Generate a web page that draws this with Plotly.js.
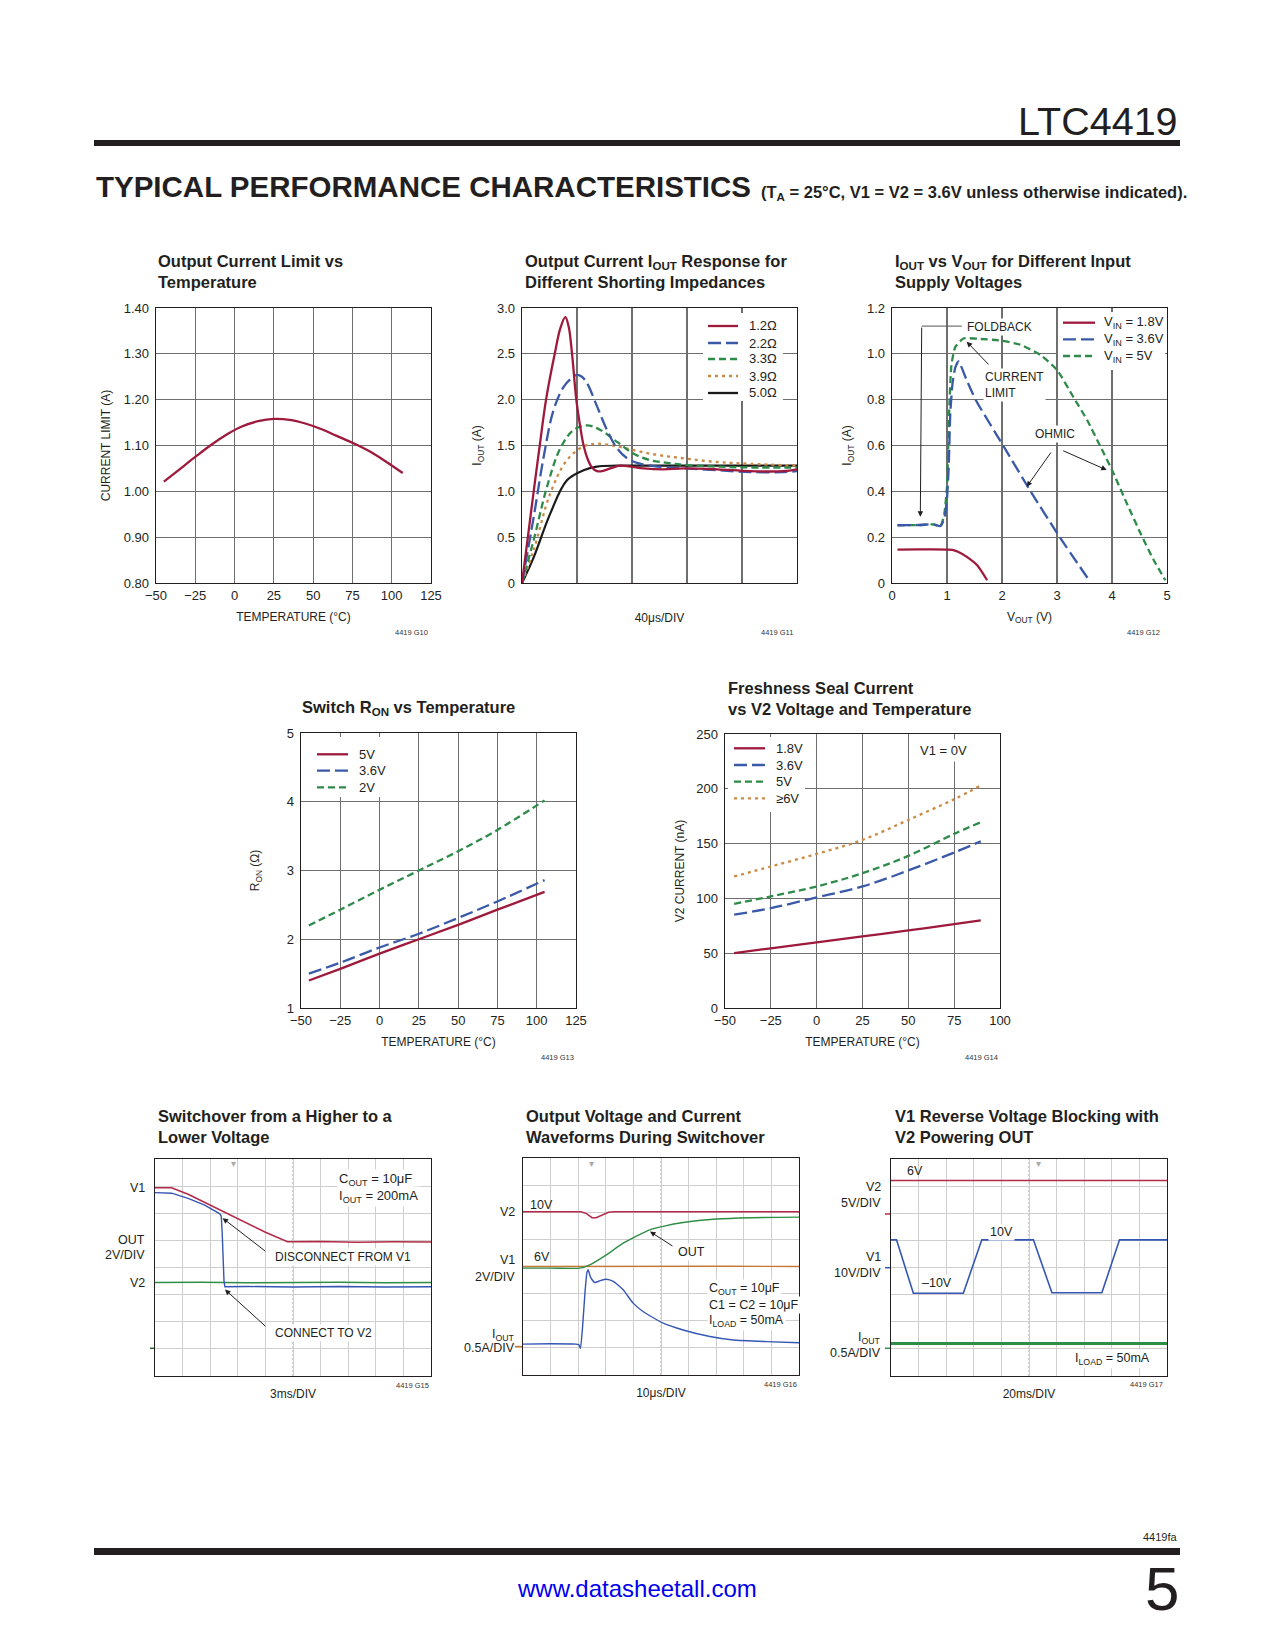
<!DOCTYPE html>
<html>
<head>
<meta charset="utf-8">
<script src="https://cdn.plot.ly/plotly-3.0.1.min.js"></script>
<style>
html,body{margin:0;padding:0;background:#ffffff;}
#page{width:1275px;height:1650px;}
</style>
</head>
<body>
<div id="page"></div>
<script>
// ================= DATA =================
// G10: Output current limit vs temperature
const g10Temp  = [-45,-35,-25,-15,-5,5,15,25,35,45,55,65,75,85,95,107];
const g10Limit = [1.021,1.048,1.075,1.101,1.124,1.142,1.153,1.158,1.156,1.148,1.136,1.121,1.106,1.089,1.068,1.040];

// G11: IOUT response for different shorting impedances (time in us, 40us/div)
const g11Names = ['1.2Ω','2.2Ω','3.3Ω','3.9Ω','5.0Ω'];
const g11T12 = [0,8.5,12.9,17.5,23.8,27.9,31.5,33.9,36.4,39.5,42.4,44.8,47.8,50.9,54.5,58.2,64.2,71.5,78.8,88.5,103,117.6,141.8,166.1,190.3,200];
const g11I12 = [0,1.0,1.5,2.0,2.5,2.78,2.90,2.80,2.5,2.0,1.7,1.5,1.35,1.26,1.22,1.22,1.25,1.28,1.27,1.25,1.24,1.25,1.24,1.22,1.22,1.24];
const g11T22 = [0,8.5,15.8,23.0,30.3,36.4,40.0,43.6,47.3,54.5,61.8,69.1,76.4,83.6,93.3,105.5,117.6,141.8,166.1,190.3,200];
const g11I22 = [0,0.72,1.38,1.89,2.14,2.24,2.27,2.25,2.18,1.93,1.67,1.47,1.36,1.31,1.28,1.26,1.25,1.23,1.21,1.21,1.22];
const g11T33 = [0,8.5,18.2,27.9,37.6,47.3,57.0,69.1,81.2,93.3,105.5,117.6,141.8,166.1,200];
const g11I33 = [0,0.47,1.05,1.47,1.67,1.72,1.67,1.54,1.41,1.34,1.31,1.29,1.27,1.26,1.26];
const g11T39 = [0,8.5,20.6,32.7,44.8,54.5,69.1,93.3,117.6,141.8,166.1,200];
const g11I39 = [0,0.36,0.98,1.34,1.49,1.52,1.49,1.41,1.36,1.32,1.30,1.28];
const g11T50 = [0,8.5,20.6,32.7,44.8,54.5,69.1,93.3,141.8,200];
const g11I50 = [0,0.28,0.76,1.12,1.23,1.27,1.28,1.28,1.28,1.28];
const g11YTicks = [0,0.5,1.0,1.5,2.0,2.5,3.0];
const g11YLabels = ['0','0.5','1.0','1.5','2.0','2.5','3.0'];

// G12: IOUT vs VOUT for different input supply voltages
const g12V18 = [0.1,0.5,1.0,1.1,1.2,1.36,1.55,1.73];
const g12I18 = [0.146,0.147,0.146,0.145,0.136,0.114,0.077,0.012];
const g12V36 = [0.1,0.5,0.75,0.88,0.95,1.0,1.03,1.06,1.1,1.15,1.21,1.35,1.52,2.02,2.52,3.05,3.59];
const g12I36 = [0.252,0.253,0.256,0.248,0.28,0.37,0.5,0.74,0.87,0.94,0.967,0.89,0.8,0.6,0.4,0.2,0.01];
const g12V5  = [0.1,0.5,0.75,0.88,0.95,1.0,1.04,1.08,1.15,1.3,1.6,1.97,2.33,2.7,3.0,3.3,3.55,3.79,4.0,4.27,4.52,4.76,4.97];
const g12I5  = [0.252,0.253,0.256,0.248,0.3,0.42,0.75,0.95,1.03,1.067,1.065,1.058,1.04,0.995,0.93,0.81,0.71,0.595,0.493,0.347,0.216,0.099,0.012];
const g12YTicks = [0,0.2,0.4,0.6,0.8,1.0,1.2];
const g12YLabels = ['0','0.2','0.4','0.6','0.8','1.0','1.2'];

// G13: Switch RON vs temperature
const g13Temp = [-45,-25,0,25,50,75,105];
const g13R5   = [1.40,1.57,1.79,2.00,2.21,2.43,2.69];
const g13R36  = [1.50,1.66,1.88,2.08,2.31,2.55,2.86];
const g13R2   = [2.20,2.43,2.72,3.00,3.28,3.59,4.02];

// G14: Freshness seal current vs V2 voltage and temperature
const g14Temp = [-45,-25,0,25,50,75,89.5];
const g14I18  = [50.1,54.5,59.8,65.3,70.8,76.5,79.9];
const g14I36  = [85.1,91.1,100.9,110.9,125.5,141.9,152.0];
const g14I5   = [95.1,101.8,110.9,123.0,138.8,158.9,169.5];
const g14I6   = [120.0,129.1,140.6,153.4,171.6,190.5,203.0];

// G15: Switchover higher to lower voltage (ms, 3ms/div; y in screen divisions)
const g15TV1  = [0,1.8,3.6,6,9,12,14.4,18,22,26,30];
const g15V1   = [6.94,6.94,6.7,6.3,5.8,5.3,4.95,4.96,4.93,4.95,4.94];
const g15TOut = [0,1.8,3.6,5.4,7.05,7.2,7.3,7.4,7.5,7.6,10,15,20,25,30];
const g15Out  = [6.76,6.74,6.55,6.3,5.98,5.9,5.3,4.2,3.5,3.29,3.30,3.28,3.30,3.28,3.29];
const g15TV2  = [0,5,10,15,20,25,30];
const g15V2   = [3.45,3.46,3.44,3.45,3.46,3.44,3.45];

// G16: Output voltage and current during switchover (us, 10us/div; y in divisions)
const g16TV2  = [0,10,21,23,25,26.5,28.5,31,33,50,75,100];
const g16V2   = [6.02,6.02,6.02,5.95,5.80,5.80,5.9,6.0,6.02,6.02,6.02,6.02];
const g16TOut = [0,10,20.6,24.2,30.2,36.3,45.9,50.8,58,70.1,82.2,100];
const g16Out  = [3.94,3.94,3.94,4.06,4.43,4.86,5.35,5.48,5.62,5.75,5.80,5.82];
const g16TV1  = [0,25,50,75,100];
const g16V1   = [4.0,4.01,4.0,4.01,4.0];
const g16TI   = [0,10,19,20.2,20.8,21.6,22.5,23.2,23.6,24.5,26,28,30.2,32.7,36.3,39.9,43.5,50.8,58,67.7,76.2,88.3,100];
const g16I    = [1.14,1.15,1.14,1.12,0.98,1.8,3.1,3.8,3.88,3.6,3.41,3.48,3.53,3.45,3.14,2.65,2.34,1.91,1.66,1.42,1.29,1.23,1.19];

// G17: V1 reverse voltage blocking with V2 powering OUT (ms, 20ms/div)
const g17TV2 = [0,50,100,150,200];
const g17V2  = [7.21,7.21,7.21,7.21,7.21];
const g17TV1 = [0,4,16.2,52.4,65.8,103.2,116.6,152.8,165.6,200];
const g17V1  = [5.02,5.02,3.05,3.05,5.02,5.02,3.07,3.07,5.02,5.02];
const g17TI  = [0,50,100,150,200];
const g17I   = [1.20,1.20,1.20,1.20,1.20];

// ================= STYLE =================
const W = 1275, H = 1650;
const T = '#231f20';
const SANS = 'Liberation Sans, Arial, sans-serif';
const RED = '#9e1a3c', BLUE = '#3a5aa8', GREEN = '#2e8b4a', ORANGE = '#c98a45', BLK = '#1a1a1a';
const SRED = '#b42a48', SBLUE = '#3557b3', SGREEN = '#2f8d46', SORANGE = '#c47a36';
const LONG = '13px,5px', SHORT = '7px,4px', DOT = '3px,4px';

function ax(n){ return n === 1 ? '' : String(n); }
const traces = [];
function curve(n, name, x, y, color, width, dash, shape, smooth){
  traces.push({type:'scatter', mode:'lines', name, x, y, xaxis:'x'+ax(n), yaxis:'y'+ax(n),
    line:{color, width, dash:dash||'solid', shape:shape||'spline', smoothing:smooth===undefined?1:smooth},
    hoverinfo:'skip', showlegend:false});
}
curve(1,'Current limit', g10Temp, g10Limit, RED, 2.3);
curve(2,g11Names[4], g11T50, g11I50, BLK, 2.2);
curve(2,g11Names[3], g11T39, g11I39, ORANGE, 2.3, DOT);
curve(2,g11Names[2], g11T33, g11I33, GREEN, 2.3, SHORT);
curve(2,g11Names[1], g11T22, g11I22, BLUE, 2.3, LONG);
curve(2,g11Names[0], g11T12, g11I12, RED, 2.3);
curve(3,'VIN = 5V', g12V5, g12I5, GREEN, 2.3, SHORT, 'spline', 0.5);
curve(3,'VIN = 3.6V', g12V36, g12I36, BLUE, 2.3, LONG, 'spline', 0.5);
curve(3,'VIN = 1.8V', g12V18, g12I18, RED, 2.3, 'solid', 'spline', 0.5);
curve(4,'2V', g13Temp, g13R2, GREEN, 2.3, SHORT);
curve(4,'3.6V', g13Temp, g13R36, BLUE, 2.3, LONG);
curve(4,'5V', g13Temp, g13R5, RED, 2.3);
curve(5,'≥6V', g14Temp, g14I6, ORANGE, 2.3, DOT);
curve(5,'5V', g14Temp, g14I5, GREEN, 2.3, SHORT);
curve(5,'3.6V', g14Temp, g14I36, BLUE, 2.3, LONG);
curve(5,'1.8V', g14Temp, g14I18, RED, 2.3);
curve(6,'V2', g15TV2, g15V2, SGREEN, 1.5, 'solid', 'linear');
curve(6,'V1', g15TV1, g15V1, SRED, 1.6, 'solid', 'linear');
curve(6,'OUT', g15TOut, g15Out, SBLUE, 1.4, 'solid', 'linear');
curve(7,'V1', g16TV1, g16V1, SORANGE, 1.4, 'solid', 'linear');
curve(7,'V2', g16TV2, g16V2, SRED, 1.5, 'solid', 'linear');
curve(7,'OUT', g16TOut, g16Out, SGREEN, 1.4, 'solid', 'spline', 0.6);
curve(7,'IOUT', g16TI, g16I, SBLUE, 1.4, 'solid', 'spline', 0.5);
curve(8,'V2', g17TV2, g17V2, SRED, 1.5, 'solid', 'linear');
curve(8,'V1', g17TV1, g17V1, SBLUE, 1.6, 'solid', 'linear');
curve(8,'IOUT', g17TI, g17I, SGREEN, 3, 'solid', 'linear');

// ================= LAYOUT =================
function dom(l,t,r,b){ return {x:[l/W, r/W], y:[1-b/H, 1-t/H]}; }
const D = [null, dom(156,308,431,583), dom(522,308,797,583), dom(892,308,1167,583),
           dom(301,733,576,1008), dom(725,734,1000,1008),
           dom(155,1159,431,1376), dom(523,1158,799,1375), dom(891,1159,1167,1376)];

function baseAx(extra){
  return Object.assign({showline:true, mirror:true, linecolor:T, linewidth:1.4, showgrid:true,
    gridcolor:'#6f6f6f', gridwidth:1.1, zeroline:false, ticks:'', fixedrange:true, automargin:false,
    tickfont:{family:SANS, size:13, color:T}}, extra);
}
function ttl(text, standoff){ return {text, standoff, font:{family:SANS, size:12, color:T}}; }
function scopeAx(extra){
  return baseAx(Object.assign({gridcolor:'#cfcfcf', gridwidth:1, showticklabels:false}, extra));
}

const layout = {
  width:W, height:H, margin:{l:0,r:0,t:0,b:0}, paper_bgcolor:'#ffffff', plot_bgcolor:'#ffffff',
  showlegend:false, font:{family:SANS, size:12, color:T},
  xaxis: baseAx({domain:D[1].x, anchor:'y', range:[-50,125], tick0:-50, dtick:25, title:ttl('TEMPERATURE (°C)',10)}),
  yaxis: baseAx({domain:D[1].y, anchor:'x', range:[0.8,1.4], dtick:0.1, tickformat:'.2f', ticklabelstandoff:3, title:ttl('CURRENT LIMIT (A)',10)}),
  xaxis2: baseAx({domain:D[2].x, anchor:'y2', range:[0,200], dtick:40, showticklabels:false, title:ttl('40μs/DIV',30)}),
  yaxis2: baseAx({domain:D[2].y, anchor:'x2', range:[0,3], tickvals:g11YTicks, ticktext:g11YLabels, ticklabelstandoff:3, title:ttl('I<sub>OUT</sub> (A)',12)}),
  xaxis3: baseAx({domain:D[3].x, anchor:'y3', range:[0,5], dtick:1, title:ttl('V<sub>OUT</sub> (V)',10)}),
  yaxis3: baseAx({domain:D[3].y, anchor:'x3', range:[0,1.2], tickvals:g12YTicks, ticktext:g12YLabels, ticklabelstandoff:3, title:ttl('I<sub>OUT</sub> (A)',12)}),
  xaxis4: baseAx({domain:D[4].x, anchor:'y4', range:[-50,125], tick0:-50, dtick:25, title:ttl('TEMPERATURE (°C)',10)}),
  yaxis4: baseAx({domain:D[4].y, anchor:'x4', range:[1,5], dtick:1, ticklabelstandoff:3, title:ttl('R<sub>ON</sub> (Ω)',24)}),
  xaxis5: baseAx({domain:D[5].x, anchor:'y5', range:[-50,100], tick0:-50, dtick:25, title:ttl('TEMPERATURE (°C)',10)}),
  yaxis5: baseAx({domain:D[5].y, anchor:'x5', range:[0,250], dtick:50, ticklabelstandoff:3, title:ttl('V2 CURRENT (nA)',9)}),
  xaxis6: scopeAx({domain:D[6].x, anchor:'y6', range:[0,30], dtick:3, title:ttl('3ms/DIV',13)}),
  yaxis6: scopeAx({domain:D[6].y, anchor:'x6', range:[0,8], dtick:1}),
  xaxis7: scopeAx({domain:D[7].x, anchor:'y7', range:[0,100], dtick:10, title:ttl('10μs/DIV',13)}),
  yaxis7: scopeAx({domain:D[7].y, anchor:'x7', range:[0,8], dtick:1}),
  xaxis8: scopeAx({domain:D[8].x, anchor:'y8', range:[0,200], dtick:20, title:ttl('20ms/DIV',13)}),
  yaxis8: scopeAx({domain:D[8].y, anchor:'x8', range:[0,8], dtick:1})
};

// ---------- shapes ----------
const shapes = [];
function rectPx(l,t,r,b,fill){ shapes.push({type:'rect', xref:'paper', yref:'paper', x0:l/W, x1:r/W, y0:1-b/H, y1:1-t/H, fillcolor:fill, line:{width:0}, layer:'above'}); }
function linePx(x0,y0,x1,y1,color,width,dash){ shapes.push({type:'line', xref:'paper', yref:'paper', x0:x0/W, x1:x1/W, y0:1-y0/H, y1:1-y1/H, line:{color, width, dash:dash||'solid'}, layer:'above'}); }
// page bars
rectPx(94,140,1180,146,T);
rectPx(94,1548,1180,1555,T);
// scope center crosshairs
[[6,15,4,30],[7,50,4,100],[8,100,4,200]].forEach(([n,cx,cy,xmax])=>{
  const xr = 'x'+ax(n), yr = 'y'+ax(n);
  shapes.push({type:'line', xref:xr, yref:yr, x0:cx, x1:cx, y0:0, y1:8, line:{color:'#b8b8b8', width:1.2, dash:'2px,2px'}, layer:'below'});
  shapes.push({type:'line', xref:xr, yref:yr, x0:0, x1:xmax, y0:cy, y1:cy, line:{color:'#b8b8b8', width:1.2, dash:'2px,2px'}, layer:'below'});
});
// chart 3 foldback bracket (horizontal part)
shapes.push({type:'line', xref:'x3', yref:'y3', x0:1.27, x1:0.54, y0:1.121, y1:1.121, line:{color:'#555555', width:1}, layer:'above'});

// legends (white panels + sample lines)
rectPx(703,313,783,401,'#ffffff');
rectPx(1058,312,1165,370,'#ffffff');
rectPx(306,737,405,797,'#ffffff');
rectPx(728,737,805,812,'#ffffff');
const leg2 = [[RED,'solid'],[BLUE,LONG],[GREEN,SHORT],[ORANGE,DOT],[BLK,'solid']];
const leg2Y = [326,343,359,376,393];
leg2.forEach((s,i)=>linePx(708,leg2Y[i],738,leg2Y[i],s[0],2.3,s[1]));
const leg3 = [[RED,'solid'],[BLUE,LONG],[GREEN,SHORT]];
const leg3Y = [322.7,339.3,356];
leg3.forEach((s,i)=>linePx(1063,leg3Y[i],1095,leg3Y[i],s[0],2.3,s[1]));
const leg4 = [[RED,'solid'],[BLUE,LONG],[GREEN,SHORT]];
const leg4Y = [754.3,770.7,787.3];
leg4.forEach((s,i)=>linePx(317,leg4Y[i],348,leg4Y[i],s[0],2.3,s[1]));
const leg5 = [[RED,'solid'],[BLUE,LONG],[GREEN,SHORT],[ORANGE,DOT]];
const leg5Y = [748.3,765,781.7,798.3];
leg5.forEach((s,i)=>linePx(734,leg5Y[i],765,leg5Y[i],s[0],2.3,s[1]));
// scope channel ground markers
linePx(150,1348.3,154,1348.3,'#2f5f3a',1.5);
linePx(515,1346.7,522,1346.7,SORANGE,1.8);
linePx(885,1214,890,1214,SRED,1.5);
linePx(885,1267.7,890,1267.7,SBLUE,1.5);
linePx(885,1348.3,890,1348.3,SGREEN,1.5);
layout.shapes = shapes;

// ---------- annotations ----------
const ann = [];
function fnt(size, color, family){ return {family:family||SANS, size:size||12, color:color||T}; }
function P(xp, yp, text, o){ ann.push(Object.assign({xref:'paper', yref:'paper', x:xp/W, y:1-yp/H, text, showarrow:false, xanchor:'left', yanchor:'middle', align:'left', font:fnt()}, o||{})); }
function Dt(n, x, y, text, o){ ann.push(Object.assign({xref:'x'+ax(n), yref:'y'+ax(n), x, y, text, showarrow:false, xanchor:'left', yanchor:'middle', align:'left', font:fnt(), bgcolor:'#ffffff', borderpad:1}, o||{})); }
function Arw(n, hx, hy, tx, ty){ ann.push({xref:'x'+ax(n), yref:'y'+ax(n), axref:'x'+ax(n), ayref:'y'+ax(n), x:hx, y:hy, ax:tx, ay:ty, text:'', showarrow:true, arrowhead:2, arrowsize:1.1, arrowwidth:1, arrowcolor:T, standoff:0}); }

// header / footer
P(1180,121,'LTC4419',{xanchor:'right', font:fnt(39.5,T)});
P(94,187,'<b>TYPICAL PERFORMANCE CHARACTERISTICS</b>',{font:fnt(29.5,T)});
P(759,193,'<b>(T<sub>A</sub> = 25°C, V1 = V2 = 3.6V unless otherwise indicated).</b>',{font:fnt(16.5,T)});
P(1180,1537,'4419fa',{xanchor:'right', font:fnt(11,T)});
P(637,1588,'www.datasheetall.com',{xanchor:'center', font:fnt(24,'#0000ee')});
P(1181,1588,'5',{xanchor:'right', font:fnt(62,T)});

// chart titles
const TS = 16.5;
P(156,271.5,'<b>Output Current Limit vs<br>Temperature</b>',{font:fnt(TS)});
P(523,271.5,'<b>Output Current I<sub>OUT</sub> Response for<br>Different Shorting Impedances</b>',{font:fnt(TS)});
P(893,271.5,'<b>I<sub>OUT</sub> vs V<sub>OUT</sub> for Different Input<br>Supply Voltages</b>',{font:fnt(TS)});
P(300,708,'<b>Switch R<sub>ON</sub> vs Temperature</b>',{font:fnt(TS)});
P(726,698,'<b>Freshness Seal Current<br>vs V2 Voltage and Temperature</b>',{font:fnt(TS)});
P(156,1126,'<b>Switchover from a Higher to a<br>Lower Voltage</b>',{font:fnt(TS)});
P(524,1126,'<b>Output Voltage and Current<br>Waveforms During Switchover</b>',{font:fnt(TS)});
P(893,1126,'<b>V1 Reverse Voltage Blocking with<br>V2 Powering OUT</b>',{font:fnt(TS)});

// figure numbers
[[430,632.7,'4419 G10'],[795,632.7,'4419 G11'],[1162,632.7,'4419 G12'],[576,1057.3,'4419 G13'],
 [1000,1057.3,'4419 G14'],[431,1385,'4419 G15'],[799,1384,'4419 G16'],[1165,1384.3,'4419 G17']]
 .forEach(([x,y,t])=>P(x,y,t,{xanchor:'right', font:fnt(7.5,'#333333')}));

// legend texts
g11Names.forEach((t,i)=>P(747,leg2Y[i],t,{font:fnt(13)}));
['V<sub>IN</sub> = 1.8V','V<sub>IN</sub> = 3.6V','V<sub>IN</sub> = 5V'].forEach((t,i)=>P(1102,leg3Y[i],t,{font:fnt(13)}));
['5V','3.6V','2V'].forEach((t,i)=>P(356.7,leg4Y[i],t,{font:fnt(13)}));
['1.8V','3.6V','5V','≥6V'].forEach((t,i)=>P(774,leg5Y[i],t,{font:fnt(13)}));

// chart 3 callouts
Dt(3,1.327,1.117,'FOLDBACK');
Arw(3,0.515,0.289,0.54,1.121);
Dt(3,1.655,0.864,'CURRENT<br>LIMIT');
Arw(3,1.358,1.053,1.782,0.947);
Dt(3,2.564,0.650,'OHMIC');
Arw(3,2.449,0.420,2.909,0.576);
Arw(3,3.904,0.493,3.085,0.580);

// chart 5 note
Dt(5,54.4,235.4,'V1 = 0V',{borderpad:3, font:fnt(13)});

// chart 6 labels
Dt(6,19.8,7.23,'C<sub>OUT</sub> = 10μF',{font:fnt(13)});
Dt(6,19.8,6.61,'I<sub>OUT</sub> = 200mA',{font:fnt(13)});
Dt(6,12.8,4.40,'DISCONNECT FROM V1');
Arw(6,7.35,5.82,12.15,4.56);
Dt(6,12.8,1.58,'CONNECT TO V2');
Arw(6,7.6,3.19,12.15,1.79);
[['V1',1188.3],['OUT',1240],['2V/DIV',1255],['V2',1282.7]].forEach(([t,y])=>P(147.3,y,t,{xanchor:'right', align:'right', font:fnt(12.5)}));

// chart 7 labels
Dt(7,1.8,6.28,'10V',{bgcolor:'rgba(0,0,0,0)', font:fnt(12.5)});
Dt(7,3.4,4.35,'6V',{bgcolor:'rgba(0,0,0,0)', font:fnt(12.5)});
Dt(7,55.6,4.53,'OUT',{font:fnt(12.5)});
Arw(7,46.0,5.29,54.7,4.72);
Dt(7,66.5,3.16,'C<sub>OUT</sub> = 10μF',{font:fnt(12.5)});
Dt(7,66.5,2.58,'C1 = C2 = 10μF',{font:fnt(12.5)});
Dt(7,66.5,2.0,'I<sub>LOAD</sub> = 50mA',{font:fnt(12.5)});
[['V2',1212.3],['V1',1260],['2V/DIV',1277.3],['I<sub>OUT</sub>',1335],['0.5A/DIV',1348.3]].forEach(([t,y])=>P(516.5,y,t,{xanchor:'right', align:'right', font:fnt(12.5)}));

// chart 8 labels
Dt(8,10.2,7.54,'6V',{bgcolor:'rgba(0,0,0,0)', font:fnt(12.5)});
Dt(8,70.4,5.32,'10V',{font:fnt(12.5)});
Dt(8,21,3.44,'–10V',{font:fnt(12.5)});
Dt(8,132,0.61,'I<sub>LOAD</sub> = 50mA',{font:fnt(12.5)});
[['V2',1187.3],['5V/DIV',1203.3],['V1',1256.7],['10V/DIV',1273.3],['I<sub>OUT</sub>',1338.3],['0.5A/DIV',1353.3]].forEach(([t,y])=>P(883.3,y,t,{xanchor:'right', align:'right', font:fnt(12.5)}));

// trigger markers
[233,591.7,1038].forEach(x=>P(x,1163,'▾',{xanchor:'center', font:fnt(10,'#aaaaaa','DejaVu Sans')}));

layout.annotations = ann;

Plotly.newPlot('page', traces, layout, {staticPlot:true, displayModeBar:false});
</script>
</body>
</html>
